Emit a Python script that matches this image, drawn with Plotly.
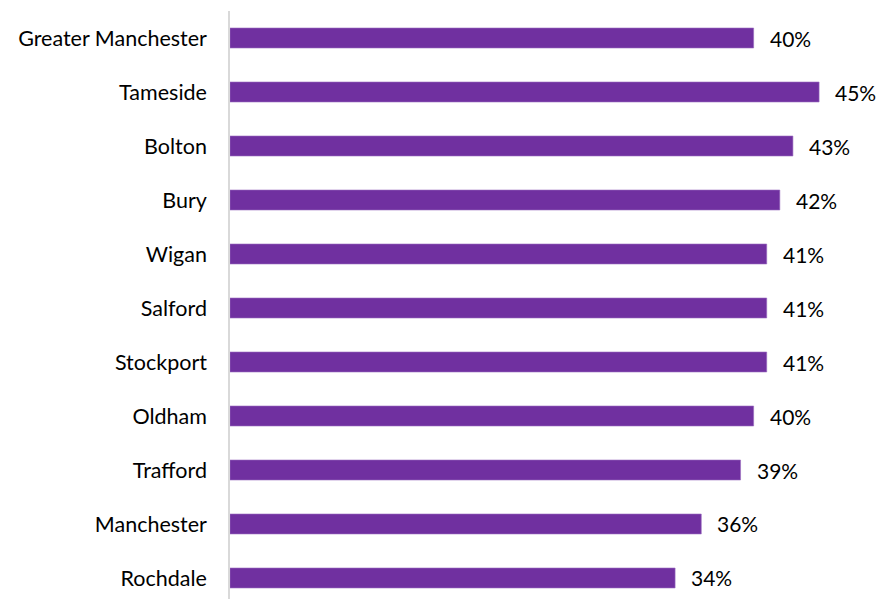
import plotly.graph_objects as go

# Share of residents by area (percent)
areas = ["Greater Manchester", "Tameside", "Bolton", "Bury", "Wigan", "Salford",
         "Stockport", "Oldham", "Trafford", "Manchester", "Rochdale"]
values = [40, 45, 43, 42, 41, 41, 41, 40, 39, 36, 34]
value_labels = [f"{v}%" for v in values]

BAR_COLOR = "#7030A0"
FONT = "Lato"

fig = go.Figure(
    go.Bar(
        x=values,
        y=areas,
        orientation="h",
        marker=dict(color=BAR_COLOR, line=dict(color="#9a6cc0", width=0.6)),
        hoverinfo="skip",
    )
)

# Value labels just past the end of each bar
for area, v, lab in zip(areas, values, value_labels):
    fig.add_annotation(
        x=v, y=area, text=lab, showarrow=False,
        xanchor="left", xshift=14,
        font=dict(family=FONT, size=21, color="#000000"),
    )

fig.update_layout(
    width=878, height=599,
    margin=dict(l=230, r=0, t=11, b=0),
    paper_bgcolor="white", plot_bgcolor="white",
    bargap=0.63,
    showlegend=False,
    font=dict(family=FONT, size=21, color="#000000"),
)
fig.update_xaxes(range=[0, 49.5], visible=False, fixedrange=True)
fig.update_yaxes(
    categoryorder="array", categoryarray=areas,
    range=[10.389, -0.5],
    showline=True, linecolor="#d9d9d9", linewidth=1.5,
    showgrid=False, zeroline=False, ticks="",
    ticklabelstandoff=17,
    tickfont=dict(family=FONT, size=21.5, color="#000000"),
    fixedrange=True,
)

fig.write_html("out.html")
